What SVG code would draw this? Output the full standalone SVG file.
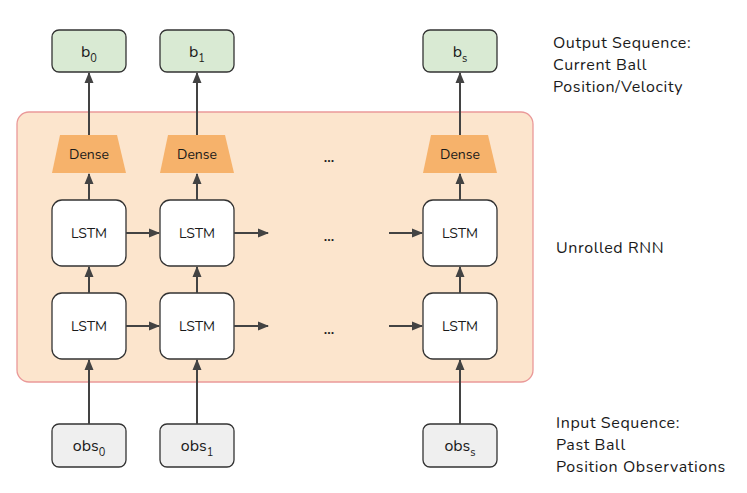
<svg xmlns="http://www.w3.org/2000/svg" width="747" height="493" viewBox="0 0 747 493">
<defs>
<marker id="ah" markerWidth="11" markerHeight="11" refX="10" refY="5.5" orient="auto" markerUnits="userSpaceOnUse">
<path d="M0,1 L11,5.5 L0,10 z" fill="#434343"/>
</marker>
<style>
text{font-family:"Nunito","Lato","Open Sans",sans-serif;fill:#1a1a1a}
.out rect{fill:#d9ead3;stroke:#333;stroke-width:1.3}
.inp rect{fill:#efefef;stroke:#333;stroke-width:1.3}
.lstm rect{fill:#fff;stroke:#333;stroke-width:1.3}
.dense polygon{fill:#f6b26b}
.nt{font-size:16px;text-anchor:middle}
.sm{font-size:14px;text-anchor:middle}
.sub{font-size:11px}
.dots{font-size:14px;font-weight:bold;text-anchor:middle}
.side{font-size:16px;letter-spacing:0.6px}
#conn line{stroke:#434343;stroke-width:2;marker-end:url(#ah)}
</style>
</defs>
<rect id="rnn" x="17" y="112" width="516" height="270" rx="12" fill="#fce5cd" stroke="#ea9999" stroke-width="1.3"/>

<g id="b0" class="out"><rect x="52" y="30" width="74" height="42" rx="7"/><text class="nt" x="89" y="57">b<tspan class="sub" dy="5">0</tspan></text></g>
<g id="b1" class="out"><rect x="160" y="30" width="74" height="42" rx="7"/><text class="nt" x="197" y="57">b<tspan class="sub" dy="5">1</tspan></text></g>
<g id="bs" class="out"><rect x="423" y="30" width="74" height="42" rx="7"/><text class="nt" x="460" y="57">b<tspan class="sub" dy="5">s</tspan></text></g>

<g id="dense0" class="dense"><polygon points="60,135 117,135 126,173 52,173"/><text class="sm" x="89" y="159">Dense</text></g>
<g id="dense1" class="dense"><polygon points="168,135 225,135 234,173 160,173"/><text class="sm" x="197" y="159">Dense</text></g>
<g id="denses" class="dense"><polygon points="431,135 488,135 497,173 423,173"/><text class="sm" x="460" y="159">Dense</text></g>

<g id="lstm00" class="lstm"><rect x="52" y="200" width="74" height="66" rx="10"/><text class="sm" x="89" y="238">LSTM</text></g>
<g id="lstm01" class="lstm"><rect x="160" y="200" width="74" height="66" rx="10"/><text class="sm" x="197" y="238">LSTM</text></g>
<g id="lstm0s" class="lstm"><rect x="423" y="200" width="74" height="66" rx="10"/><text class="sm" x="460" y="238">LSTM</text></g>
<g id="lstm10" class="lstm"><rect x="52" y="293" width="74" height="66" rx="10"/><text class="sm" x="89" y="331">LSTM</text></g>
<g id="lstm11" class="lstm"><rect x="160" y="293" width="74" height="66" rx="10"/><text class="sm" x="197" y="331">LSTM</text></g>
<g id="lstm1s" class="lstm"><rect x="423" y="293" width="74" height="66" rx="10"/><text class="sm" x="460" y="331">LSTM</text></g>

<g id="obs0" class="inp"><rect x="52" y="424" width="74" height="43" rx="7"/><text class="nt" x="89" y="451">obs<tspan class="sub" dy="5">0</tspan></text></g>
<g id="obs1" class="inp"><rect x="160" y="424" width="74" height="43" rx="7"/><text class="nt" x="197" y="451">obs<tspan class="sub" dy="5">1</tspan></text></g>
<g id="obss" class="inp"><rect x="423" y="424" width="74" height="43" rx="7"/><text class="nt" x="460" y="451">obs<tspan class="sub" dy="5">s</tspan></text></g>

<g id="conn">
<line x1="89" y1="424" x2="89" y2="360"/>
<line x1="197" y1="424" x2="197" y2="360"/>
<line x1="460" y1="424" x2="460" y2="360"/>
<line x1="89" y1="293" x2="89" y2="267"/>
<line x1="197" y1="293" x2="197" y2="267"/>
<line x1="460" y1="293" x2="460" y2="267"/>
<line x1="89" y1="200" x2="89" y2="174"/>
<line x1="197" y1="200" x2="197" y2="174"/>
<line x1="460" y1="200" x2="460" y2="174"/>
<line x1="89" y1="135" x2="89" y2="73"/>
<line x1="197" y1="135" x2="197" y2="73"/>
<line x1="460" y1="135" x2="460" y2="73"/>
<line x1="126" y1="233" x2="159" y2="233"/>
<line x1="234" y1="233" x2="268" y2="233"/>
<line x1="389" y1="233" x2="422" y2="233"/>
<line x1="126" y1="326" x2="159" y2="326"/>
<line x1="234" y1="326" x2="268" y2="326"/>
<line x1="389" y1="326" x2="422" y2="326"/>
</g>

<text class="dots" x="329" y="162">...</text>
<text class="dots" x="329" y="241">...</text>
<text class="dots" x="329" y="334">...</text>

<g id="labels" class="side">
<text x="553" y="48">Output Sequence:</text>
<text x="553" y="70">Current Ball</text>
<text x="553" y="92">Position/Velocity</text>
<text x="556" y="253">Unrolled RNN</text>
<text x="556" y="428">Input Sequence:</text>
<text x="556" y="450">Past Ball</text>
<text x="556" y="472">Position Observations</text>
</g>
</svg>
